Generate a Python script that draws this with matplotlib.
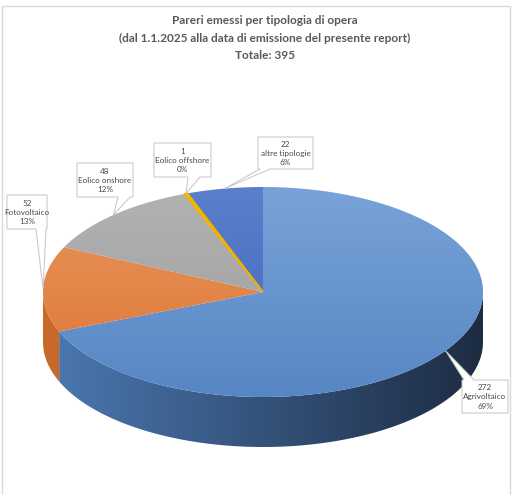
import matplotlib.pyplot as plt
import numpy as np
from matplotlib.patches import Polygon, Rectangle

# dati del grafico
categorie = ['Agrivoltaico', 'Fotovoltaico', 'Eolico onshore', 'Eolico offshore', 'altre tipologie']
pareri = [272, 52, 48, 1, 22]
titolo = ('Pareri emessi per tipologia di opera\n'
          '(dal 1.1.2025 alla data di emissione del presente report)\n'
          'Totale: %d' % sum(pareri))

# colori (alto / basso della faccia superiore, sinistra / destra del bordo)
col_top = ['#79a3d8', '#e9975f', '#b2b2b2', '#f7c21c', '#5a7fcb']
col_bot = ['#5686c4', '#dc7432', '#9d9d9d', '#f0b400', '#4367bb']
col_side_l = ['#4b79b2', '#c9692b', '#8a8a8a', '#d9a000', '#3a5aa0']
col_side_r = ['#1d2c42', '#a85520', '#6a6a6a', '#b08000', '#26406e']

# posizione dei box delle etichette (x0, y0, x1, y1), lato della coda, base della coda
box_pos = [(462, 380, 508, 413), (7, 195, 47, 229), (77, 163, 133, 197),
           (154, 143, 211, 177), (258, 137, 313, 169)]
tail_side = ['top', 'bottom', 'bottom', 'bottom', 'bottom']
tail_base = [(464, 474), (36, 46), (118, 130), (188, 200), (260, 270)]

# geometria della torta 3D (pixel)
cx, cy, a, b, depth = 263, 292, 220, 105, 50


def pt(theta, dy=0.0):
    t = np.radians(theta)
    return cx + a * np.sin(t), cy - b * np.cos(t) + dy


def hex2rgb(h):
    return np.array([int(h[i:i + 2], 16) for i in (1, 3, 5)]) / 255.0


def gradient(c0, c1, horizontal=False):
    g = np.linspace(0, 1, 256)
    img = hex2rgb(c0)[None, :] * (1 - g[:, None]) + hex2rgb(c1)[None, :] * g[:, None]
    if horizontal:
        return np.repeat(img[None, :, :], 2, axis=0)
    return np.repeat(img[:, None, :], 2, axis=1)


fig = plt.figure(figsize=(5.25, 4.95), dpi=100)
ax = fig.add_axes([0, 0, 1, 1])
ax.axis('off')

ax.add_patch(Rectangle((2, 6), 508, 495, fill=False, ec='#d9d9d9', lw=1.0, zorder=1))

tot = float(sum(pareri))
ang = np.concatenate([[0], np.cumsum(pareri) / tot * 360.0])

# bordo laterale (solo la metà anteriore è visibile)
for i in range(len(pareri)):
    s, e = max(ang[i], 90), min(ang[i + 1], 270)
    if s >= e:
        continue
    th = np.linspace(s, e, max(int((e - s) * 2), 2))
    verts = [pt(t) for t in th] + [pt(t, depth) for t in th[::-1]]
    poly = Polygon(verts, closed=True, fc='none', ec='none', zorder=2)
    ax.add_patch(poly)
    im = ax.imshow(gradient(col_side_l[i], col_side_r[i], horizontal=True),
                   extent=(cx - a, cx + a, cy + b + depth, cy - b), origin='upper',
                   aspect='auto', zorder=2, interpolation='bilinear')
    im.set_clip_path(poly)

# facce superiori con sfumatura verticale
for i in range(len(pareri)):
    th = np.linspace(ang[i], ang[i + 1], max(int((ang[i + 1] - ang[i]) * 2), 2))
    verts = [(cx, cy)] + [pt(t) for t in th]
    ec = col_bot[i] if pareri[i] / tot < 0.01 else 'none'
    poly = Polygon(verts, closed=True, fc='none', ec=ec, lw=1.3, zorder=4)
    ax.add_patch(poly)
    im = ax.imshow(gradient(col_top[i], col_bot[i]),
                   extent=(cx - a, cx + a, cy + b, cy - b), origin='upper',
                   aspect='auto', zorder=3, interpolation='bilinear')
    im.set_clip_path(poly)

ax.set_xlim(0, 525)
ax.set_ylim(495, 0)

# etichette con riquadro e coda
for i, nome in enumerate(categorie):
    x0, y0, x1, y1 = box_pos[i]
    tx, ty = pt((ang[i] + ang[i + 1]) / 2)
    bx0, bx1 = tail_base[i]
    if tail_side[i] == 'top':
        v = [(x0, y0), (bx0, y0), (tx, ty), (bx1, y0), (x1, y0), (x1, y1), (x0, y1)]
    else:
        v = [(x0, y0), (x1, y0), (x1, y1), (bx1, y1), (tx, ty), (bx0, y1), (x0, y1)]
    ax.add_patch(Polygon(v, closed=True, fc='white', ec='#c4c4c4', lw=0.7, zorder=6))
    pct = round(pareri[i] / tot * 100)
    ax.text((x0 + x1) / 2, (y0 + y1) / 2 + 0.5, '%d\n%s\n%d%%' % (pareri[i], nome, pct),
            ha='center', va='center', fontsize=5.9, color='#4a4a4a',
            family='Lato', linespacing=1.35, zorder=7)

ax.text(265, 38, titolo, ha='center', va='center', fontsize=8.6, fontweight='bold',
        color='#595959', family='Lato', linespacing=1.75, zorder=7)

fig.savefig('out.png', dpi=100)
